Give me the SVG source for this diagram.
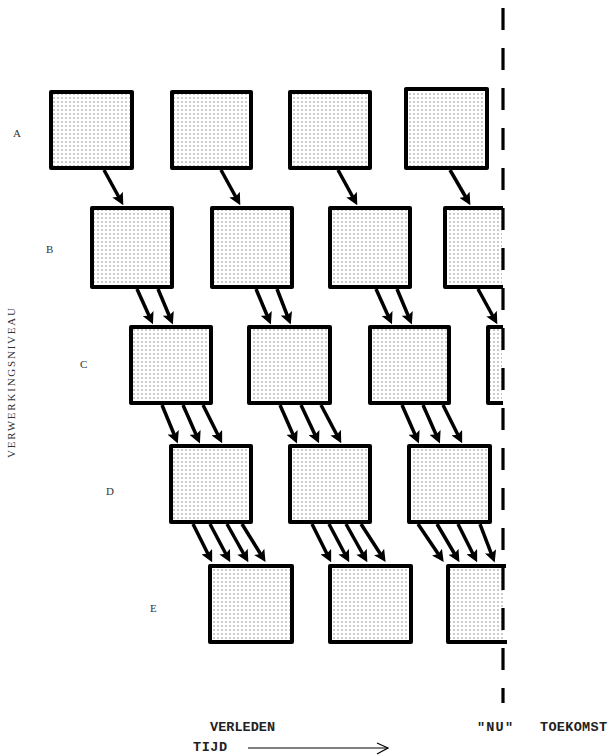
<svg xmlns="http://www.w3.org/2000/svg" width="609" height="755" viewBox="0 0 609 755">
<defs>
<pattern id="dots" width="4" height="4" patternUnits="userSpaceOnUse">
<rect x="1.5" y="1.5" width="1" height="1" fill="#333"/>
</pattern>
<marker id="ah" viewBox="0 0 10 10" refX="6" refY="5" markerWidth="12" markerHeight="12" markerUnits="userSpaceOnUse" orient="auto">
<path d="M0,0 L10,5 L0,10 L2,5 z" fill="#000"/>
</marker>
<style>
.box{fill:url(#dots);stroke:#000;stroke-width:4;stroke-linejoin:round}
.pfill{fill:url(#dots);stroke:none}
.pedge{fill:none;stroke:#000;stroke-width:4;stroke-linejoin:round}
.conn line{stroke:#000;stroke-width:3.5;marker-end:url(#ah)}
.lvl{font-family:"Liberation Serif",serif;font-size:11px;fill:#333}
.bt{font-family:"Liberation Mono",monospace;font-size:13.5px;font-weight:bold;fill:#222}
</style>
</defs>
<rect width="609" height="755" fill="#fff"/>

<!-- Row A -->
<g id="A1"><rect class="box" x="51" y="92" width="81" height="76"/></g>
<g id="A2"><rect class="box" x="172" y="92" width="79" height="76"/></g>
<g id="A3"><rect class="box" x="290" y="92" width="80" height="76"/></g>
<g id="A4"><rect class="box" x="406" y="89" width="81" height="79"/></g>

<!-- Row B -->
<g id="B1"><rect class="box" x="92" y="208" width="80" height="79"/></g>
<g id="B2"><rect class="box" x="212" y="208" width="80" height="79"/></g>
<g id="B3"><rect class="box" x="330" y="208" width="80" height="79"/></g>
<g id="B4"><rect class="pfill" x="445" y="208" width="57" height="79"/><path class="pedge" d="M503,208 L445,208 L445,287 L503,287"/></g>

<!-- Row C -->
<g id="C1"><rect class="box" x="131" y="327" width="80" height="76"/></g>
<g id="C2"><rect class="box" x="249" y="327" width="81" height="76"/></g>
<g id="C3"><rect class="box" x="370" y="327" width="79" height="76"/></g>
<g id="C4"><rect class="pfill" x="488" y="327" width="14" height="76"/><path class="pedge" d="M503,327 L488,327 L488,403 L503,403"/></g>

<!-- Row D -->
<g id="D1"><rect class="box" x="171" y="446" width="80" height="76"/></g>
<g id="D2"><rect class="box" x="290" y="446" width="80" height="76"/></g>
<g id="D3"><rect class="box" x="409" y="446" width="81" height="76"/></g>

<!-- Row E -->
<g id="E1"><rect class="box" x="210" y="566" width="82" height="76"/></g>
<g id="E2"><rect class="box" x="330" y="566" width="81" height="76"/></g>
<g id="E3"><rect class="pfill" x="448" y="566" width="55" height="76"/><path class="pedge" d="M506,566 L448,566 L448,642 L507,642"/></g>

<!-- Now line -->
<g id="nu-line"><line x1="503" y1="8" x2="503" y2="703" stroke="#000" stroke-width="3.2" stroke-dasharray="22 18"/></g>

<g id="connectors" class="conn">
<line x1="104" y1="170" x2="121" y2="201"/>
<line x1="221" y1="170" x2="238" y2="201"/>
<line x1="338" y1="170" x2="355" y2="201"/>
<line x1="450" y1="170" x2="468" y2="201"/>

<line x1="137" y1="289" x2="151" y2="320"/>
<line x1="158" y1="289" x2="171" y2="320"/>
<line x1="256" y1="289" x2="269" y2="320"/>
<line x1="277" y1="289" x2="289" y2="320"/>
<line x1="376" y1="289" x2="390" y2="320"/>
<line x1="397" y1="289" x2="410" y2="320"/>
<line x1="478" y1="289" x2="495" y2="320"/>

<line x1="162" y1="405" x2="176" y2="439"/>
<line x1="183" y1="405" x2="198" y2="439"/>
<line x1="203" y1="405" x2="220" y2="439"/>
<line x1="280" y1="405" x2="295" y2="439"/>
<line x1="301" y1="405" x2="317" y2="439"/>
<line x1="321" y1="405" x2="339" y2="439"/>
<line x1="402" y1="405" x2="417" y2="439"/>
<line x1="423" y1="405" x2="438" y2="439"/>
<line x1="443" y1="405" x2="460" y2="439"/>

<line x1="193" y1="524" x2="210" y2="558"/>
<line x1="210" y1="524" x2="228" y2="558"/>
<line x1="227" y1="524" x2="246" y2="558"/>
<line x1="242" y1="524" x2="263" y2="558"/>
<line x1="312" y1="524" x2="329" y2="558"/>
<line x1="329" y1="524" x2="347" y2="558"/>
<line x1="346" y1="524" x2="365" y2="558"/>
<line x1="361" y1="524" x2="383" y2="558"/>
<line x1="418" y1="524" x2="441" y2="558"/>
<line x1="437" y1="524" x2="457" y2="558"/>
<line x1="458" y1="524" x2="475" y2="558"/>
<line x1="480" y1="524" x2="493" y2="558"/>
</g>

<g id="labels">
<text class="lvl" x="13" y="137">A</text>
<text class="lvl" x="46" y="253">B</text>
<text class="lvl" x="80" y="368">C</text>
<text class="lvl" x="106" y="495">D</text>
<text class="lvl" x="150" y="612">E</text>
<text class="lvl" transform="translate(15,383) rotate(-90)" text-anchor="middle" textLength="150" lengthAdjust="spacing">VERWERKINGSNIVEAU</text>
</g>

<g id="time-axis">
<text class="bt" x="210" y="731" textLength="65" lengthAdjust="spacing">VERLEDEN</text>
<text class="bt" x="477" y="731" textLength="36" lengthAdjust="spacing">"NU"</text>
<text class="bt" x="540" y="731" textLength="67" lengthAdjust="spacing">TOEKOMST</text>
<text class="bt" x="193" y="751" textLength="34" lengthAdjust="spacing">TIJD</text>
<line x1="248" y1="748" x2="388" y2="748" stroke="#000" stroke-width="1.2"/>
<polyline points="377,743 388,748 377,754" fill="none" stroke="#000" stroke-width="1.2"/>
</g>
</svg>
